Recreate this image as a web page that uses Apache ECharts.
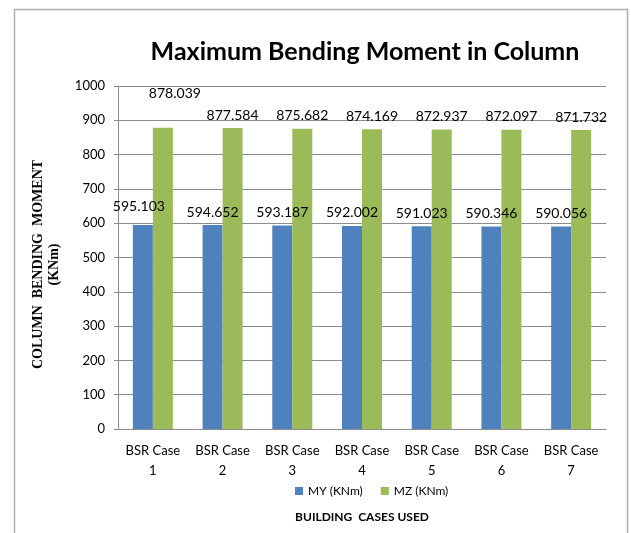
<!DOCTYPE html>
<html>
<head>
<meta charset="utf-8">
<script src="https://cdn.jsdelivr.net/npm/echarts@6/dist/echarts.min.js"></script>
<style>html,body{margin:0;padding:0;background:#fff;}#c{width:631px;height:533px;}</style>
</head>
<body>
<div id="c"></div>
<script>
const categories = ['BSR Case\n1','BSR Case\n2','BSR Case\n3','BSR Case\n4','BSR Case\n5','BSR Case\n6','BSR Case\n7'];
const myValues = [595.103, 594.652, 593.187, 592.002, 591.023, 590.346, 590.056];
const mzValues = [878.039, 877.584, 875.682, 874.169, 872.937, 872.097, 871.732];
const seriesNames = ['MY (KNm)', 'MZ (KNm)'];
const yTicks = { min: 0, max: 1000, interval: 100 };

const FONT = 'Lato';
const chart = echarts.init(document.getElementById('c'), null, { renderer: 'canvas' });

function labelData(vals, firstOffset) {
  return vals.map((v, i) => i === 0
    ? { value: v, label: { offset: firstOffset } }
    : v);
}

chart.setOption({
  animation: false,
  backgroundColor: '#fff',
  title: {
    text: 'Maximum Bending Moment in Column',
    left: 360, top: 34, textAlign: 'center',
    textStyle: { fontFamily: FONT, fontWeight: 'bold', fontSize: 25, color: '#000' }
  },
  graphic: [{
    type: 'rect', left: 12, top: 7, silent: true,
    shape: { width: 613, height: 540 },
    style: { fill: 'none', stroke: '#b0b0b0', lineWidth: 1.5 }
  }],
  legend: {
    data: seriesNames, left: 290, top: 480,
    itemWidth: 8, itemHeight: 8, itemGap: 18, icon: 'rect',
    textStyle: { fontFamily: FONT, fontSize: 12, color: '#000' }
  },
  grid: { left: 118, right: 25, top: 86, bottom: 104, containLabel: false },
  xAxis: {
    type: 'category', data: categories,
    name: 'BUILDING  CASES USED', nameLocation: 'middle', nameGap: 82,
    nameTextStyle: { fontFamily: FONT, fontWeight: 'bold', fontSize: 12, color: '#000' },
    axisLine: { lineStyle: { color: '#8c8c8c' } },
    axisTick: { show: false },
    axisLabel: { fontFamily: FONT, fontSize: 13, color: '#000', lineHeight: 20, margin: 12, interval: 0 }
  },
  yAxis: {
    type: 'value', min: yTicks.min, max: yTicks.max, interval: yTicks.interval,
    name: 'COLUMN  BENDING  MOMENT\n(KNm)', nameLocation: 'middle', nameRotate: 90, nameGap: 56,
    nameTextStyle: { fontFamily: 'Liberation Serif', fontWeight: 'bold', fontSize: 14, color: '#000', lineHeight: 16,
                     padding: [0, 14, 0, 0] },
    axisLine: { show: true, lineStyle: { color: '#8c8c8c' } },
    axisTick: { show: true, length: 4, inside: false, lineStyle: { color: '#8c8c8c' } },
    splitLine: { lineStyle: { color: '#8c8c8c' } },
    axisLabel: { fontFamily: FONT, fontSize: 13, color: '#000', margin: 13, formatter: v => String(v) }
  },
  series: [
    {
      name: seriesNames[0], type: 'bar', data: labelData(myValues, [-4, -5]),
      barWidth: 20, barGap: '0%',
      itemStyle: { color: '#4f81bd' },
      label: { show: true, position: 'top', distance: 6, fontFamily: FONT, fontSize: 14, color: '#000',
               formatter: p => p.value.toFixed(3) }
    },
    {
      name: seriesNames[1], type: 'bar', data: labelData(mzValues, [12, -21]),
      barWidth: 20, barGap: '0%',
      itemStyle: { color: '#9bbb59' },
      label: { show: true, position: 'top', distance: 6, fontFamily: FONT, fontSize: 14, color: '#000',
               formatter: p => p.value.toFixed(3) }
    }
  ]
});
</script>
</body>
</html>
